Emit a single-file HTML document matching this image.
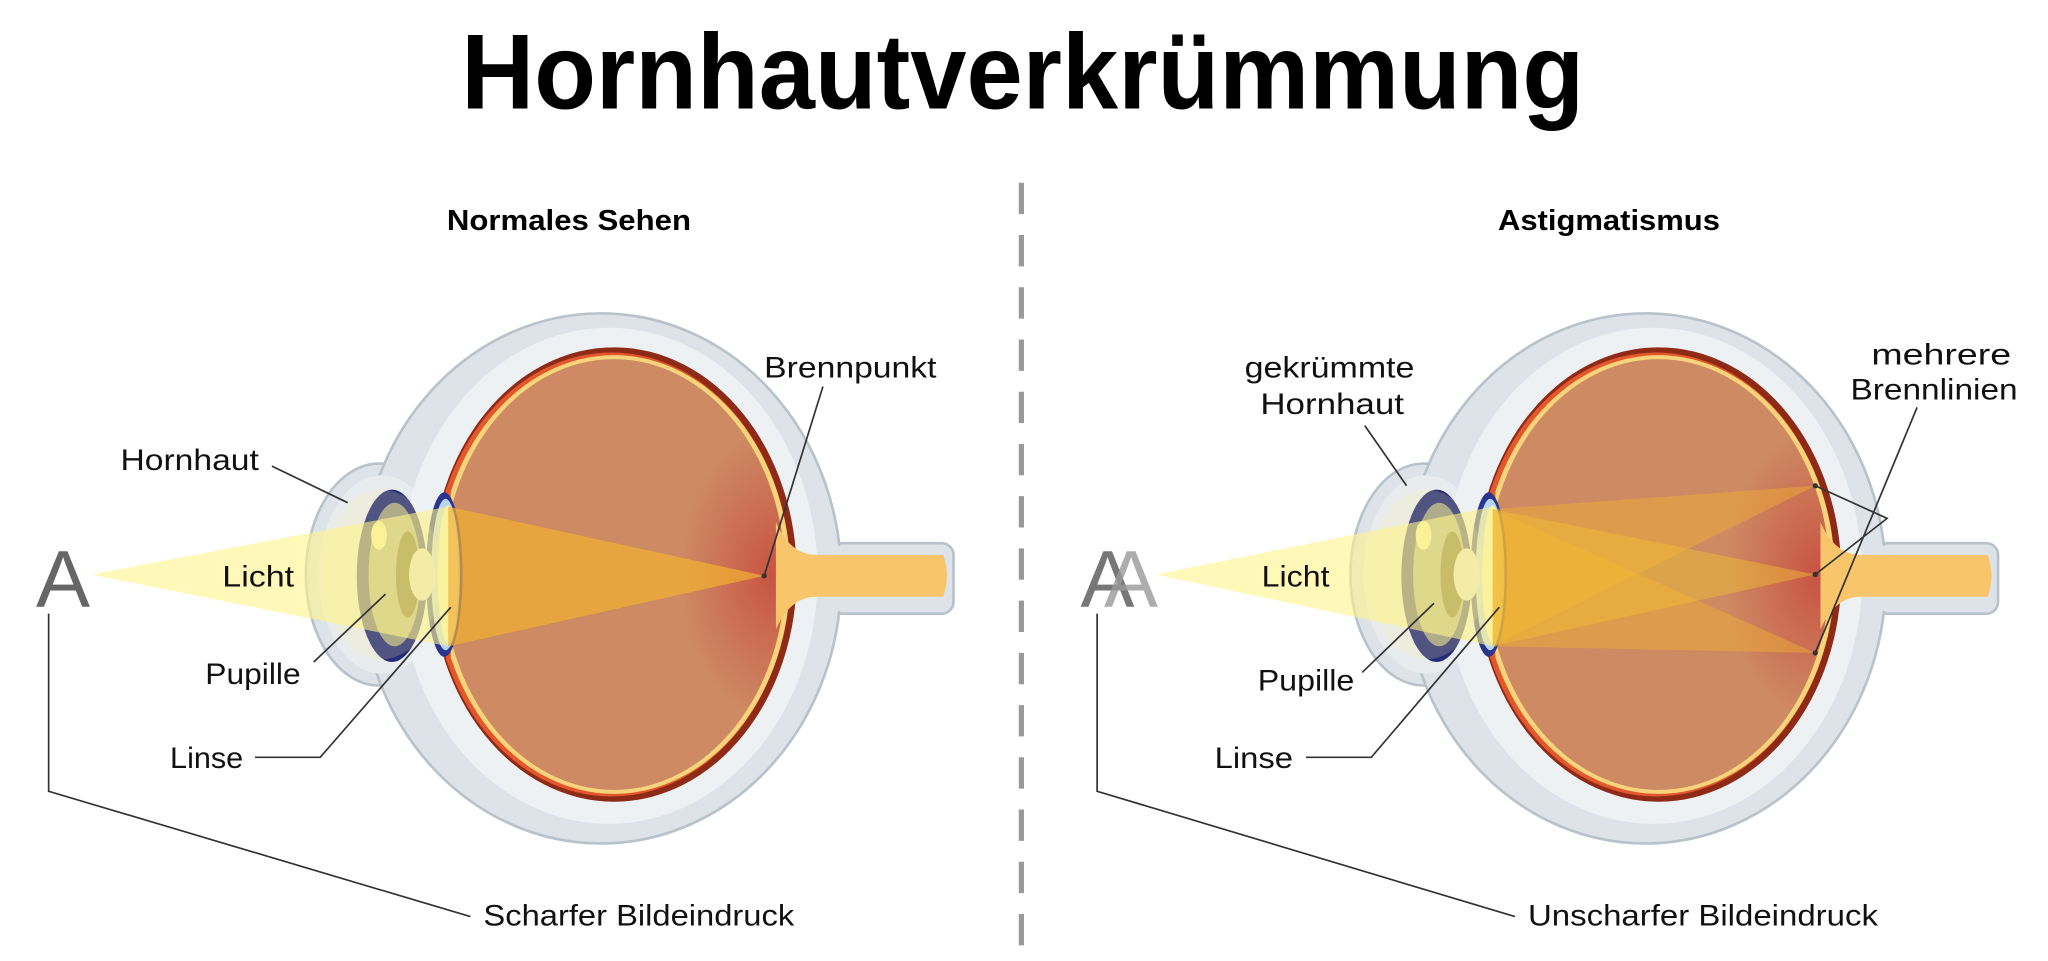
<!DOCTYPE html>
<html><head><meta charset="utf-8"><style>html,body{margin:0;padding:0;background:#fff}svg{display:block}</style></head>
<body>
<svg width="2048" height="961" viewBox="0 0 1568 736" xmlns="http://www.w3.org/2000/svg" font-family="'Liberation Sans', sans-serif">
<defs>
<radialGradient id="fov" cx="0.5" cy="0.5" r="0.5">
<stop offset="0" stop-color="#c84a3c" stop-opacity="0.85"/>
<stop offset="1" stop-color="#c84a3c" stop-opacity="0"/>
</radialGradient>
<clipPath id="cv"><rect x="345" y="0" width="400" height="736"/></clipPath>
<clipPath id="ce"><ellipse cx="470" cy="440" rx="131" ry="165"/></clipPath>
<g id="eye">
 <rect x="600" y="416" width="130" height="54" rx="9" fill="#dde3e8" stroke="#b8c2ca" stroke-width="2"/>
 <ellipse cx="290" cy="440" rx="56" ry="85" fill="#dde3e8" stroke="#b8c2ca" stroke-width="2"/>
 <ellipse cx="460" cy="443" rx="184" ry="203" fill="#dde3e8" stroke="#b8c2ca" stroke-width="2"/>
 <rect x="630" y="418" width="20" height="50" fill="#dde3e8"/>
 <ellipse cx="292" cy="440" rx="48" ry="76" fill="#e8ecef"/>
 <ellipse cx="466" cy="441" rx="160" ry="190" fill="#eef1f4"/>
 <ellipse cx="470" cy="440" rx="140" ry="174" fill="#8e2a16"/>
 <ellipse cx="468" cy="440" rx="137" ry="170" fill="#e2582c"/>
 <g clip-path="url(#cv)">
  <ellipse cx="470" cy="440" rx="135" ry="168" fill="#f7d47c"/>
  <ellipse cx="470" cy="440" rx="131" ry="165" fill="#cd8a63"/>
 </g>
 <g clip-path="url(#ce)">
  <ellipse cx="592" cy="440" rx="70" ry="110" fill="url(#fov)"/>
 </g>
 <path d="M594 400 Q605 425 625 425 L722 425 Q728 441 722 457 L625 457 Q605 457 594 482 Z" fill="#f9c56a"/>
 <ellipse cx="300" cy="441" rx="27" ry="66" fill="#262b78"/>
 <ellipse cx="302" cy="440" rx="20" ry="55" fill="#9c9a84"/>
 <ellipse cx="312" cy="440" rx="9" ry="33" fill="#5a4a20"/>
 <ellipse cx="340" cy="440" rx="14" ry="63" fill="#2a3590"/>
 <ellipse cx="341" cy="440" rx="11" ry="58" fill="#b9d3f0"/>
 <ellipse cx="343" cy="440" rx="8" ry="53" fill="#f6f1b8"/>
 <ellipse cx="323" cy="440" rx="10" ry="20" fill="#dcdcdc"/>
 <ellipse cx="290" cy="410" rx="6" ry="11" fill="#f2f0b0"/>
</g>
</defs>

<text x="783" y="83" text-anchor="middle" font-size="82" font-weight="bold" textLength="860" lengthAdjust="spacingAndGlyphs">Hornhautverkrümmung</text>
<line x1="782" y1="140" x2="782" y2="736" stroke="#999" stroke-width="4" stroke-dasharray="24 16"/>

<text x="342" y="176" font-size="22" font-weight="bold" textLength="187" lengthAdjust="spacingAndGlyphs">Normales Sehen</text>
<text x="1147" y="176" font-size="22" font-weight="bold" textLength="170" lengthAdjust="spacingAndGlyphs">Astigmatismus</text>

<!-- left eye -->
<use href="#eye"/>
<ellipse cx="292" cy="440" rx="45" ry="65" fill="#fff6a0" opacity="0.2"/>
<polygon points="70,440 343,388 343,495" fill="#fff38a" opacity="0.6"/>
<polygon points="343,388 585,441 343,495" fill="#f2b030" opacity="0.7"/>
<text x="48" y="465" font-size="62" fill="#666" text-anchor="middle">A</text>

<g font-size="23" fill="#111">
<text x="92" y="360" textLength="106" lengthAdjust="spacingAndGlyphs">Hornhaut</text>
<text x="170" y="449" textLength="55" lengthAdjust="spacingAndGlyphs">Licht</text>
<text x="157" y="524" textLength="73" lengthAdjust="spacingAndGlyphs">Pupille</text>
<text x="130" y="588" textLength="56" lengthAdjust="spacingAndGlyphs">Linse</text>
<text x="585" y="289" textLength="132" lengthAdjust="spacingAndGlyphs">Brennpunkt</text>
<text x="370" y="709" textLength="238" lengthAdjust="spacingAndGlyphs">Scharfer Bildeindruck</text>
</g>
<g stroke="#333" stroke-width="1.3" fill="none">
<line x1="208" y1="357" x2="266" y2="385"/>
<line x1="240" y1="507" x2="295" y2="455"/>
<polyline points="195,580 245,580 345,465"/>
<line x1="630" y1="296" x2="585" y2="441"/>
<polyline points="360,702 37,606 37,470"/>
</g>

<!-- right eye -->
<use href="#eye" transform="translate(800,0)"/>
<ellipse cx="1092" cy="440" rx="45" ry="65" fill="#fff6a0" opacity="0.2"/>
<polygon points="885,440 1143,388 1143,495" fill="#fff38a" opacity="0.6"/>
<polygon points="1143,390 1390,500 1143,495" fill="#f2b030" opacity="0.45"/>
<polygon points="1143,390 1390,372 1143,495" fill="#f2b030" opacity="0.45"/>
<polygon points="1143,390 1390,440 1143,495" fill="#f2c030" opacity="0.45"/>
<text x="848" y="465" font-size="62" fill="#777" text-anchor="middle">A</text>
<text x="866" y="465" font-size="62" fill="#999" text-anchor="middle" opacity="0.8">A</text>

<g font-size="23" fill="#111">
<text x="953" y="289" textLength="130" lengthAdjust="spacingAndGlyphs">gekrümmte</text>
<text x="965" y="317" textLength="110" lengthAdjust="spacingAndGlyphs">Hornhaut</text>
<text x="966" y="449" textLength="52" lengthAdjust="spacingAndGlyphs">Licht</text>
<text x="963" y="529" textLength="74" lengthAdjust="spacingAndGlyphs">Pupille</text>
<text x="930" y="588" textLength="60" lengthAdjust="spacingAndGlyphs">Linse</text>
<text x="1433" y="279" textLength="107" lengthAdjust="spacingAndGlyphs">mehrere</text>
<text x="1417" y="306" textLength="128" lengthAdjust="spacingAndGlyphs">Brennlinien</text>
<text x="1170" y="709" textLength="268" lengthAdjust="spacingAndGlyphs">Unscharfer Bildeindruck</text>
</g>
<g stroke="#333" stroke-width="1.3" fill="none">
<line x1="1045" y1="326" x2="1077" y2="372"/>
<line x1="1043" y1="515" x2="1098" y2="462"/>
<polyline points="1000,580 1050,580 1148,465"/>
<line x1="1468" y1="312" x2="1390" y2="500"/>
<polyline points="1390,372 1445,397 1390,440"/>
<polyline points="1160,702 840,606 840,470"/>
</g>
<g fill="#333"><circle cx="1390" cy="372" r="2"/><circle cx="1390" cy="440" r="2"/><circle cx="1390" cy="500" r="2"/><circle cx="585" cy="441" r="2"/></g>
</svg>
</body></html>
